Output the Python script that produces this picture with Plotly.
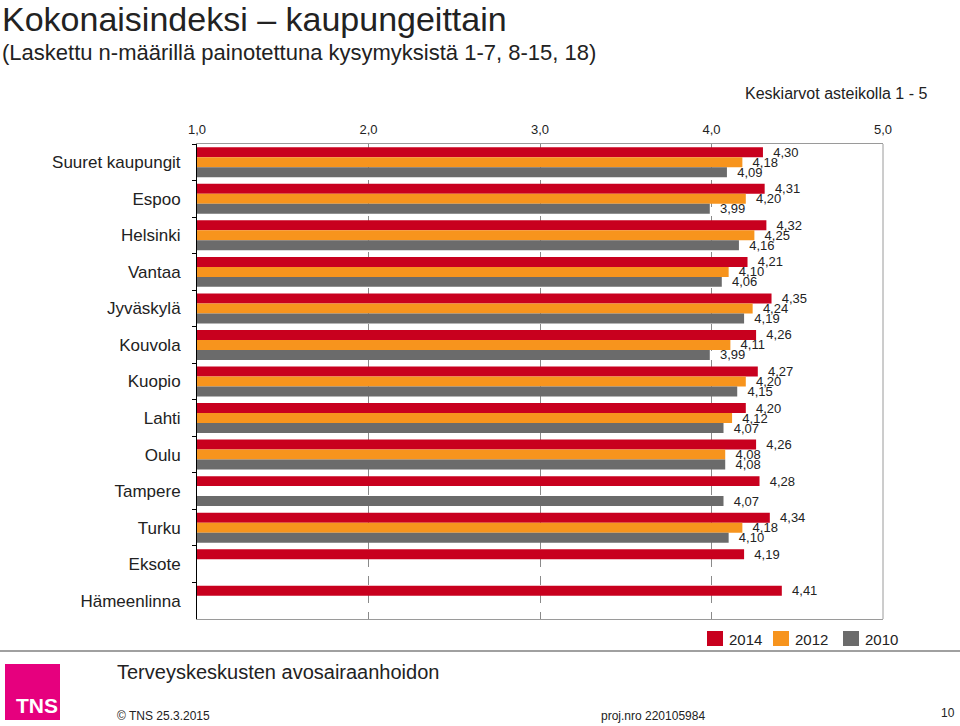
import plotly.graph_objects as go

# ---------------- data ----------------
categories = ["Suuret kaupungit", "Espoo", "Helsinki", "Vantaa", "Jyväskylä", "Kouvola",
              "Kuopio", "Lahti", "Oulu", "Tampere", "Turku", "Eksote", "Hämeenlinna"]
v2014 = [4.30, 4.31, 4.32, 4.21, 4.35, 4.26, 4.27, 4.20, 4.26, 4.28, 4.34, 4.19, 4.41]
v2012 = [4.18, 4.20, 4.25, 4.10, 4.24, 4.11, 4.20, 4.12, 4.08, None, 4.18, None, None]
v2010 = [4.09, 3.99, 4.16, 4.06, 4.19, 3.99, 4.15, 4.07, 4.08, 4.07, 4.10, None, None]
series_names = ["2014", "2012", "2010"]
tick_vals = [1, 2, 3, 4, 5]
tick_text = ["1,0", "2,0", "3,0", "4,0", "5,0"]

colors = ["#C8001E", "#F7941D", "#6B6B6B"]
FONT = "Liberation Sans, Arial, sans-serif"

# plot area in pixels
L, R, T, B = 197, 883, 144, 619
W, H = 960, 726


def px(x):
    return (x - L) / (R - L)


def py(y):
    return (B - y) / (B - T)


fig = go.Figure()
for name, vals, col in zip(series_names, [v2014, v2012, v2010], colors):
    fig.add_trace(go.Bar(
        x=vals, y=categories, orientation="h", name=name,
        marker=dict(color=col, line=dict(width=0)),
        texttemplate="\u00a0\u00a0%{x:.2f}", textposition="outside",
        textfont=dict(family=FONT, size=13, color="#222222"),
        constraintext="none", cliponaxis=False,
        hoverinfo="skip", showlegend=False,
    ))

annotations = []
shapes = []


def txt(x, y, s, size, anchor="left", color="#222222", bold=False, family=FONT):
    annotations.append(dict(
        text=("<b>%s</b>" % s) if bold else s, x=px(x), y=py(y), xref="paper", yref="paper",
        xanchor=anchor, yanchor="middle", showarrow=False, borderpad=0,
        font=dict(family=family, size=size, color=color)))


txt(1, 19, "Kokonaisindeksi – kaupungeittain", 34)
txt(1, 52, "(Laskettu n-määrillä painotettuna kysymyksistä 1-7, 8-15, 18)", 22)
txt(928, 93, "Keskiarvot asteikolla 1 - 5", 16, anchor="right")

# legend (manual)
leg_x = [707, 773, 843]
for lx, name, col in zip(leg_x, series_names, colors):
    shapes.append(dict(type="rect", xref="paper", yref="paper",
                       x0=px(lx), x1=px(lx + 16), y0=py(646), y1=py(631),
                       fillcolor=col, line=dict(width=0)))
    txt(lx + 21, 639, name, 15)

# right border of plot
shapes.append(dict(type="line", xref="paper", yref="paper", x0=1, x1=1, y0=0, y1=1,
                   line=dict(color="#9A9A9A", width=1)))
# footer separator
shapes.append(dict(type="line", xref="paper", yref="paper", x0=px(0), x1=px(960),
                   y0=py(651), y1=py(651), line=dict(color="#808080", width=1.5)))
# TNS logo box
shapes.append(dict(type="rect", xref="paper", yref="paper", x0=px(5), x1=px(60),
                   y0=py(720), y1=py(664), fillcolor="#E6007E", line=dict(width=0)))
txt(15, 705, "TNS", 21, color="white", bold=True,
    family="Liberation Sans Narrow, Liberation Sans, Arial")

txt(116, 672, "Terveyskeskusten avosairaanhoidon", 20)
txt(116, 716, "© TNS 25.3.2015", 12)
txt(600, 716, "proj.nro 220105984", 12)
txt(956, 713, "10", 12, anchor="right")

fig.update_layout(
    width=W, height=H, autosize=False,
    margin=dict(l=L, r=W - R, t=T, b=H - B, pad=0),
    paper_bgcolor="white", plot_bgcolor="white",
    barmode="group", bargap=0.18, bargroupgap=0,
    separators=", ",
    font=dict(family=FONT, color="#222222"),
    annotations=annotations, shapes=shapes,
    xaxis=dict(range=[1, 5], side="top", tickvals=tick_vals, ticktext=tick_text,
               tickfont=dict(size=13, color="#222222"), ticks="", ticklabelstandoff=4,
               showgrid=True, gridcolor="#8A8A8A", griddash="dash", gridwidth=1,
               showline=True, mirror=True, linecolor="#9A9A9A", linewidth=1,
               zeroline=False, fixedrange=True),
    yaxis=dict(autorange="reversed", type="category", tickson="boundaries",
               ticks="outside", ticklen=4, tickcolor="#000000",
               tickfont=dict(size=17, color="#222222"), ticklabelstandoff=12,
               showline=True, linecolor="#000000", linewidth=1,
               showgrid=False, fixedrange=True),
)

fig.write_html("out.html", config={"displayModeBar": False},
               post_script="document.body.style.margin='0';document.body.style.overflow='hidden';")
